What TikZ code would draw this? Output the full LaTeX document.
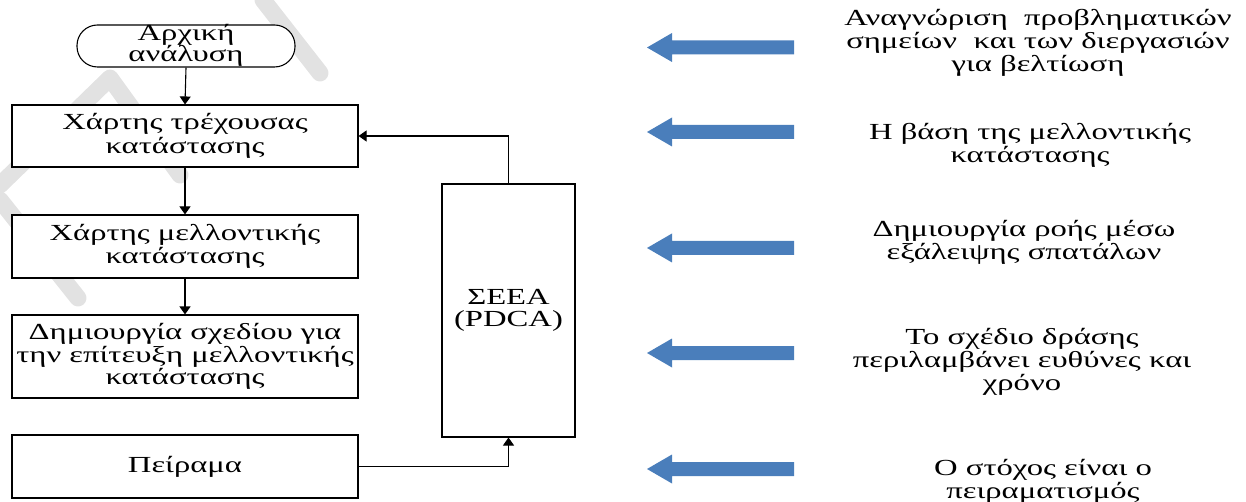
\documentclass[tikz,border=0pt]{standalone}
\usepackage{fontspec}
\setmainfont[FakeStretch=1.42]{Liberation Serif}
\usetikzlibrary{arrows.meta}
\definecolor{arrowblue}{RGB}{74,126,187}
\definecolor{wmgray}{RGB}{226,226,226}
\newcommand\tightlines{\lineskiplimit=-30pt\relax}
\tikzset{
  box/.style={draw=black, line width=1.1pt, fill=white, minimum width=346pt, align=center,
    font=\fontsize{23}{22.5}\selectfont\tightlines, inner sep=0pt},
  lift/.style={execute at begin node={\rule{0pt}{#1}}},
  term/.style={box, rounded corners=20.5pt, minimum width=218pt, minimum height=42pt},
  conn/.style={line width=1.1pt, -{Triangle[length=8pt,width=11pt]}},
  rtext/.style={align=center, font=\fontsize{23}{23}\selectfont\tightlines, inner sep=0pt, anchor=base},
  wm/.style={wmgray, line width=17pt, line cap=round, line join=round},
}
\newcommand\blockarrow[2]{%
  \fill[arrowblue] (647,#2) -- (672,{#2-14.5}) -- (672,{#2-7}) -- (794,{#2-7})
    -- (794,{#2+7}) -- (672,{#2+7}) -- (672,{#2+14.5}) -- cycle;
  \coordinate (#1) at (647,#2);}
\begin{document}
\begin{tikzpicture}[x=1pt,y=-1pt]
\useasboundingbox (0,0) rectangle (1246,502);
% watermark
\draw[wm] (0,200) -- (78,298);
\draw[wm] (0,185) -- (110,78) -- (180,175);
\draw[wm] (263,0) -- (320,73);
% flowchart
\node[term] (t0) at (186,46) {};
\node[rtext, font=\fontsize{23}{21}\selectfont\tightlines] (t0text) at (186,62) {Αρχική\\ανάλυση};
\node[box, minimum height=62pt, lift=24pt, font=\fontsize{23}{24}\selectfont\tightlines] (b1) at (185,136) {Χάρτης τρέχουσας\\κατάστασης};
\node[box, minimum height=63pt, lift=20pt] (b2) at (185,246.5) {Χάρτης μελλοντικής\\κατάστασης};
\node[box, minimum height=83pt, lift=21pt] (b3) at (185,356.5) {Δημιουργία σχεδίου για\\την επίτευξη μελλοντικής\\κατάστασης};
\node[box, minimum height=63pt] (b4) at (185,466.5) {Πείραμα};
\node[box, minimum width=133pt, minimum height=253pt] (s) at (508.5,310.5) {ΣΕΕΑ\\(PDCA)};
\draw[conn] (t0.south) -- (b1.north);
\draw[conn] (b1.south) -- (b2.north);
\draw[conn] (b2.south) -- (b3.north);
\draw[conn] (b4.east) -| (s.south);
\draw[conn] (s.north) |- (b1.east);
% block arrows
\blockarrow{a1}{47.5}
\blockarrow{a2}{132}
\blockarrow{a3}{248}
\blockarrow{a4}{353}
\blockarrow{a5}{469}
% right texts (anchored at the baseline of their last line)
\node[rtext] (r1) at (1038,72) {Αναγνώριση\ \ προβληματικών\\σημείων\ \ και των διεργασιών\\για βελτίωση};
\node[rtext] (r2) at (1030,163) {Η βάση της μελλοντικής\\κατάστασης};
\node[rtext] (r3) at (1024,260) {Δημιουργία ροής μέσω\\εξάλειψης σπατάλων};
\node[rtext] (r4) at (1022,390) {Το σχέδιο δράσης\\περιλαμβάνει ευθύνες και\\χρόνο};
\node[rtext] (r5) at (1043,498) {Ο στόχος είναι ο\\πειραματισμός};
\end{tikzpicture}
\end{document}
